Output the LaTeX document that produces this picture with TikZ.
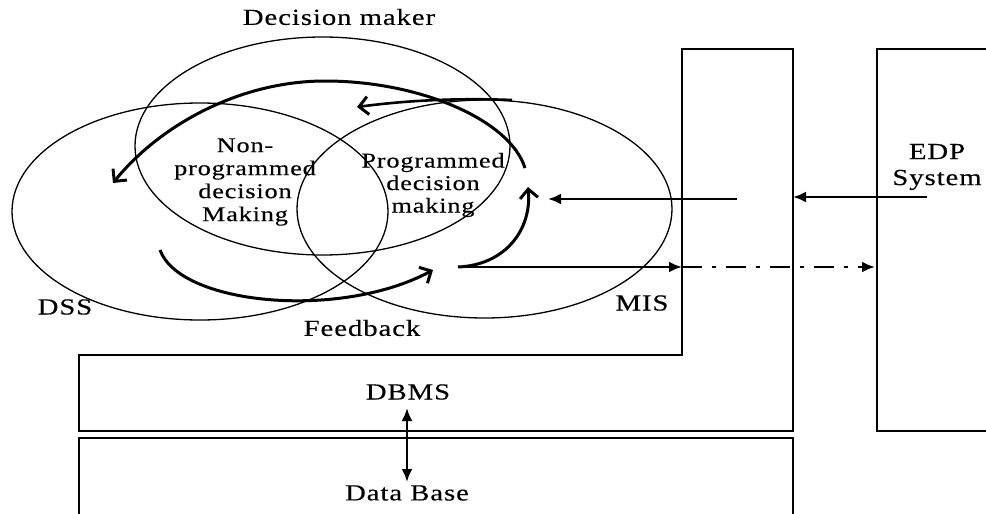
\documentclass[tikz,border=0pt]{standalone}
\usepackage{fontspec}
\setmainfont{Liberation Serif}[FakeStretch=1.25, LetterSpace=4, FakeBold=0.3]
\usetikzlibrary{shapes.geometric,arrows.meta}

\tikzset{
  lbl/.style={font=\fontsize{23}{25}\selectfont, inner sep=0pt, align=center},
  venn/.style={draw, ellipse, line width=1.3pt, inner sep=0pt},
  boxline/.style={line width=2pt},
  flow/.style={line width=3pt, -{Straight Barb[length=9pt,width=18pt,line width=3pt]}},
  feed/.style={line width=2.8pt, -{Latex[length=13pt,width=11pt]}},
  dashdot/.style={line width=2.8pt, dash pattern=on 20pt off 10pt on 4pt off 10pt, -{Latex[length=13pt,width=11pt]}},
}

\begin{document}
\begin{tikzpicture}[x=1pt,y=-1pt]
\useasboundingbox (0,0) rectangle (986,514);
\clip (0,0) rectangle (986,514);

% three overlapping sets
\node[venn, minimum width=375pt, minimum height=218pt] (dm)  at (322.5,146) {};
\node[venn, minimum width=376pt, minimum height=217pt] (dss) at (200,211.5) {};
\node[venn, minimum width=375pt, minimum height=218pt] (mis) at (484.5,209) {};

% MIS frame (L shape), EDP frame, data base frame
\coordinate (m1) at (682,49);
\coordinate (m2) at (793,49);
\coordinate (m3) at (793,431);
\coordinate (m4) at (79,431);
\coordinate (m5) at (79,355);
\coordinate (m6) at (682,355);
\draw[boxline] (m1) -- (m2) -- (m3) -- (m4) -- (m5) -- (m6) -- cycle;
\draw[boxline] (1000,49) -- (877,49) -- (877,431) -- (1000,431);
\draw[boxline] (79,530) -- (79,438) -- (793,438) -- (793,530);

% labels
\node[lbl] (tdm)   at (339,17)  {Decision maker};
\node[lbl, font=\fontsize{21}{23}\selectfont] (tnon)  at (245,182) {Non-\\programmed\\decision\\Making};
\node[lbl, font=\fontsize{21}{22.5}\selectfont] (tprog) at (433,185) {Programmed\\decision\\making};
\node[lbl] (tdss)  at (65,307)  {DSS};
\node[lbl] (tfb)   at (362,328) {Feedback};
\node[lbl] (tmis)  at (642,303) {MIS};
\node[lbl, font=\fontsize{23}{26}\selectfont] (tedp)  at (937,167) {EDP\\System};
\node[lbl] (tdbms) at (408,392) {DBMS};
\node[lbl] (tdb)   at (407,493) {Data Base};

% end points of the flows
\coordinate (arcA) at (525,168);
\coordinate (arcT) at (325,81);
\coordinate (arcB) at (113,183);
\coordinate (fbA)  at (160,250);
\coordinate (fbB)  at (433,270);
\coordinate (sA)   at (458,267);
\coordinate (sB)   at (528,187);
\coordinate (tpA)  at (512,100);
\coordinate (tpB)  at (357,107);
\coordinate (misL) at (682,267);
\coordinate (edpL) at (875,267);
\coordinate (inA)  at (737,199);
\coordinate (inB)  at (548,199);
\coordinate (edA)  at (927,197);
\coordinate (edB)  at (793,197);
\coordinate (dbU)  at (407,408);
\coordinate (dbD)  at (407,482);

% decision flows
\draw[flow] (arcA) .. controls (510,120) and (420,81) .. (arcT)
                   .. controls (240,81) and (160,125) .. (arcB);
\draw[flow] (fbA) .. controls (180,305) and (340,320) .. (fbB);
\draw[flow] (sA) .. controls (505,265) and (532,230) .. (sB);
\draw[flow, line width=2.6pt] (tpA) .. controls (460,98) and (410,100) .. (tpB);

% information flows
\draw[feed] (sA) -- (misL);
\draw[dashdot] (misL) -- (edpL);
\draw[feed] (inA) -- (inB);
\draw[feed] (edA) -- (edB);
\draw[line width=2.8pt, {Latex[length=13pt,width=11pt]}-{Latex[length=13pt,width=11pt]}] (dbD) -- (dbU);
\end{tikzpicture}
\end{document}
